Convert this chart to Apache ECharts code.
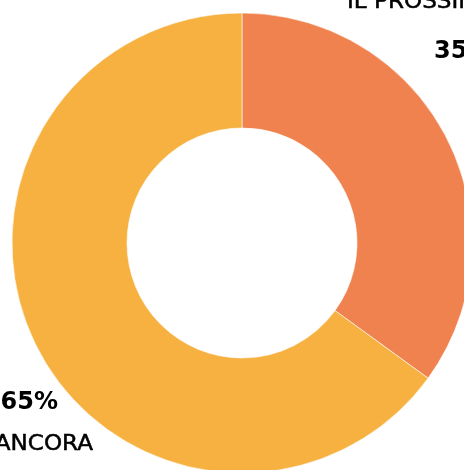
<!DOCTYPE html>
<html>
<head>
<meta charset="utf-8">
<script src="https://cdn.jsdelivr.net/npm/echarts@6/dist/echarts.min.js"></script>
<style>
    html, body { margin: 0; padding: 0; background: #fff; }
    #chart { width: 464px; height: 470px; }
</style>
</head>
<body>
<div id="chart"></div>
<script>
var categories = ['IL PROSSIMO ANNO', 'NON ANCORA'];
var values = [35, 65];
var valueLabels = ['35%', '65%'];
var colors = ['#F0824F', '#F6B141'];


var chart = echarts.init(document.getElementById('chart'));

var labelFont = '"DejaVu Sans", sans-serif';

option = {
    animation: false,
    color: colors,
    series: [{
        type: 'pie',
        center: [242, 243],
        radius: [115, 230],
        startAngle: 90,
        clockwise: true,
        label: { show: false },
        labelLine: { show: false },
        itemStyle: {
            borderColor: '#fff',
            borderWidth: 0.6
        },
        data: categories.map(function(name, i) {
            return { name: name, value: values[i] };
        })
    }],
    graphic: [
        // top right label (name above value)
        {
            type: 'text', x: 347, y: -8, scaleX: 1.1,
            style: { text: categories[0], font: '21px ' + labelFont, fill: '#000', stroke: '#000', lineWidth: 0.5 }
        },
        {
            type: 'text', x: 434, y: 40,
            style: { text: valueLabels[0], font: 'bold 24px ' + labelFont, fill: '#000' }
        },
        // bottom left label (value above name)
        {
            type: 'text', x: 58, y: 391,
            style: { text: valueLabels[1], font: 'bold 24px ' + labelFont, fill: '#000', align: 'right' }
        },
        {
            type: 'text', x: 93, y: 434, scaleX: 1.1,
            style: { text: 'ANCORA', font: '21px ' + labelFont, fill: '#000', align: 'right', stroke: '#000', lineWidth: 0.5 }
        }
    ]
};

chart.setOption(option);
</script>
</body>
</html>
